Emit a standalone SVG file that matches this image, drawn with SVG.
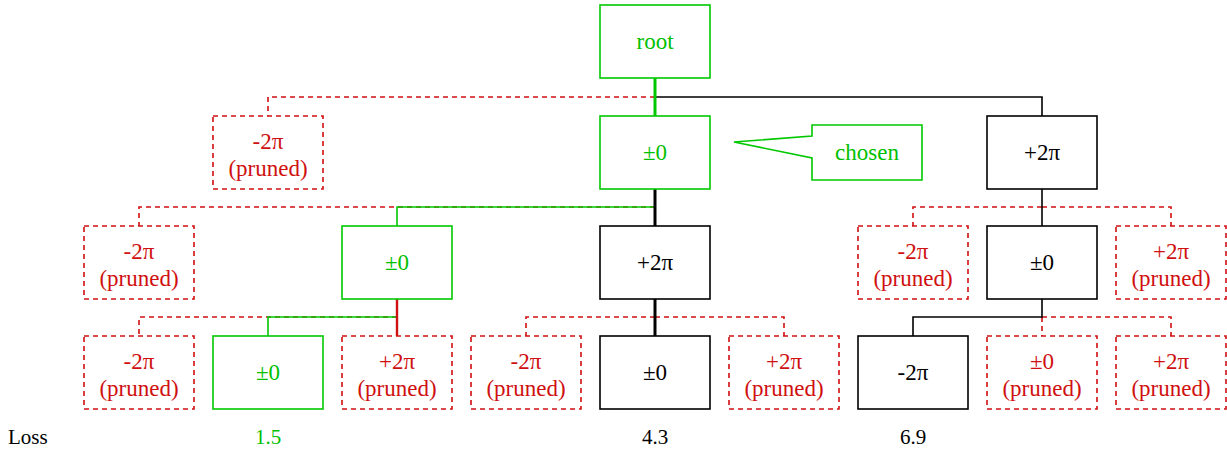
<svg xmlns="http://www.w3.org/2000/svg" width="1227" height="451" viewBox="0 0 1227 451">
  <style>
    text { font-family: "Liberation Serif", "Times New Roman", serif; font-size: 23px; text-anchor: middle; }
    .box { fill: #fff; stroke-width: 1.6; }
    .ok { stroke: #000; }
    .chosen { stroke: #00c800; }
    .pruned { stroke: #d01010; stroke-dasharray: 5 4; }
    .t-ok { fill: #000; }
    .t-chosen { fill: #00c000; }
    .t-pruned { fill: #d01010; }
    .c { fill: none; stroke-width: 1.6; }
    .c-ok { stroke: #000; }
    .c-chosen { stroke: #00c800; }
    .c-pruned { stroke: #d01010; stroke-dasharray: 5 4; }
    .thick { stroke-width: 3; stroke-dasharray: none; }
    .loss { font-size: 21px; }
  </style>

  <!-- connectors -->
  <g id="connectors">
    <!-- root -> level 1 -->
    <path class="c c-pruned" d="M655 97 H268 V116"/>
    <path class="c c-ok" d="M655 97 H1042 V116"/>
    <path class="c c-chosen thick" d="M655 78 V116"/>
    <!-- ±0 (level 1) -> level 2 -->
    <path class="c c-pruned" d="M655 207 H139 V226"/>
    <path class="c c-chosen" d="M655 189 V207 H397 V226"/>
    <path class="c c-ok thick" d="M655 189 V226"/>
    <!-- +2π (level 1) -> level 2 -->
    <path class="c c-pruned" d="M1042 207 H913 V226"/>
    <path class="c c-pruned" d="M1042 207 H1171 V226"/>
    <path class="c c-ok" d="M1042 189 V226"/>
    <!-- ±0 (level 2, chosen) -> level 3 -->
    <path class="c c-pruned" d="M397 317 H139 V336"/>
    <path class="c c-chosen" d="M397 299 V317 H268 V336"/>
    <path class="c c-pruned thick" d="M397 299 V336" style="stroke-width:2.4"/>
    <!-- +2π (level 2) -> level 3 -->
    <path class="c c-pruned" d="M655 317 H526 V336"/>
    <path class="c c-pruned" d="M655 317 H784 V336"/>
    <path class="c c-ok thick" d="M655 299 V336"/>
    <!-- ±0 (level 2, right) -> level 3 -->
    <path class="c c-pruned" d="M1042 317 V336"/>
    <path class="c c-pruned" d="M1042 317 H1171 V336"/>
    <path class="c c-ok" d="M1042 299 V317 H913 V336"/>
  </g>

  <!-- level 0 -->
  <g id="root"><rect class="box chosen" x="600" y="5" width="110" height="73"/><text class="t-chosen" x="655" y="49">root</text></g>

  <!-- level 1 -->
  <g id="l1-m2pi"><rect class="box pruned" x="213" y="116" width="110" height="73"/><text class="t-pruned" x="268" y="148.5">-2π</text><text class="t-pruned" x="268" y="175.5">(pruned)</text></g>
  <g id="l1-0"><rect class="box chosen" x="600" y="116" width="110" height="73"/><text class="t-chosen" x="655" y="160">±0</text></g>
  <g id="l1-p2pi"><rect class="box ok" x="987" y="116" width="110" height="73"/><text class="t-ok" x="1042" y="160">+2π</text></g>

  <!-- callout -->
  <g id="callout">
    <path class="chosen" fill="#fff" stroke-width="1.6" d="M812 125 H922 V180 H812 V158 L734 142 L812 136 Z"/>
    <text class="t-chosen" x="867" y="160">chosen</text>
  </g>

  <!-- level 2 -->
  <g id="l2-a"><rect class="box pruned" x="84" y="226" width="110" height="73"/><text class="t-pruned" x="139" y="258.5">-2π</text><text class="t-pruned" x="139" y="285.5">(pruned)</text></g>
  <g id="l2-b"><rect class="box chosen" x="342" y="226" width="110" height="73"/><text class="t-chosen" x="397" y="270">±0</text></g>
  <g id="l2-c"><rect class="box ok" x="600" y="226" width="110" height="73"/><text class="t-ok" x="655" y="270">+2π</text></g>
  <g id="l2-d"><rect class="box pruned" x="858" y="226" width="110" height="73"/><text class="t-pruned" x="913" y="258.5">-2π</text><text class="t-pruned" x="913" y="285.5">(pruned)</text></g>
  <g id="l2-e"><rect class="box ok" x="987" y="226" width="110" height="73"/><text class="t-ok" x="1042" y="270">±0</text></g>
  <g id="l2-f"><rect class="box pruned" x="1116" y="226" width="110" height="73"/><text class="t-pruned" x="1171" y="258.5">+2π</text><text class="t-pruned" x="1171" y="285.5">(pruned)</text></g>

  <!-- level 3 -->
  <g id="l3-a"><rect class="box pruned" x="84" y="336" width="110" height="73"/><text class="t-pruned" x="139" y="368.5">-2π</text><text class="t-pruned" x="139" y="395.5">(pruned)</text></g>
  <g id="l3-b"><rect class="box chosen" x="213" y="336" width="110" height="73"/><text class="t-chosen" x="268" y="380">±0</text></g>
  <g id="l3-c"><rect class="box pruned" x="342" y="336" width="110" height="73"/><text class="t-pruned" x="397" y="368.5">+2π</text><text class="t-pruned" x="397" y="395.5">(pruned)</text></g>
  <g id="l3-d"><rect class="box pruned" x="471" y="336" width="110" height="73"/><text class="t-pruned" x="526" y="368.5">-2π</text><text class="t-pruned" x="526" y="395.5">(pruned)</text></g>
  <g id="l3-e"><rect class="box ok" x="600" y="336" width="110" height="73"/><text class="t-ok" x="655" y="380">±0</text></g>
  <g id="l3-f"><rect class="box pruned" x="729" y="336" width="110" height="73"/><text class="t-pruned" x="784" y="368.5">+2π</text><text class="t-pruned" x="784" y="395.5">(pruned)</text></g>
  <g id="l3-g"><rect class="box ok" x="858" y="336" width="110" height="73"/><text class="t-ok" x="913" y="380">-2π</text></g>
  <g id="l3-h"><rect class="box pruned" x="987" y="336" width="110" height="73"/><text class="t-pruned" x="1042" y="368.5">±0</text><text class="t-pruned" x="1042" y="395.5">(pruned)</text></g>
  <g id="l3-i"><rect class="box pruned" x="1116" y="336" width="110" height="73"/><text class="t-pruned" x="1171" y="368.5">+2π</text><text class="t-pruned" x="1171" y="395.5">(pruned)</text></g>

  <!-- loss row -->
  <g id="loss">
    <text class="t-ok loss" x="8" y="444" style="text-anchor:start">Loss</text>
    <text class="t-chosen loss" x="268" y="444">1.5</text>
    <text class="t-ok loss" x="655" y="444">4.3</text>
    <text class="t-ok loss" x="913" y="444">6.9</text>
  </g>
</svg>
